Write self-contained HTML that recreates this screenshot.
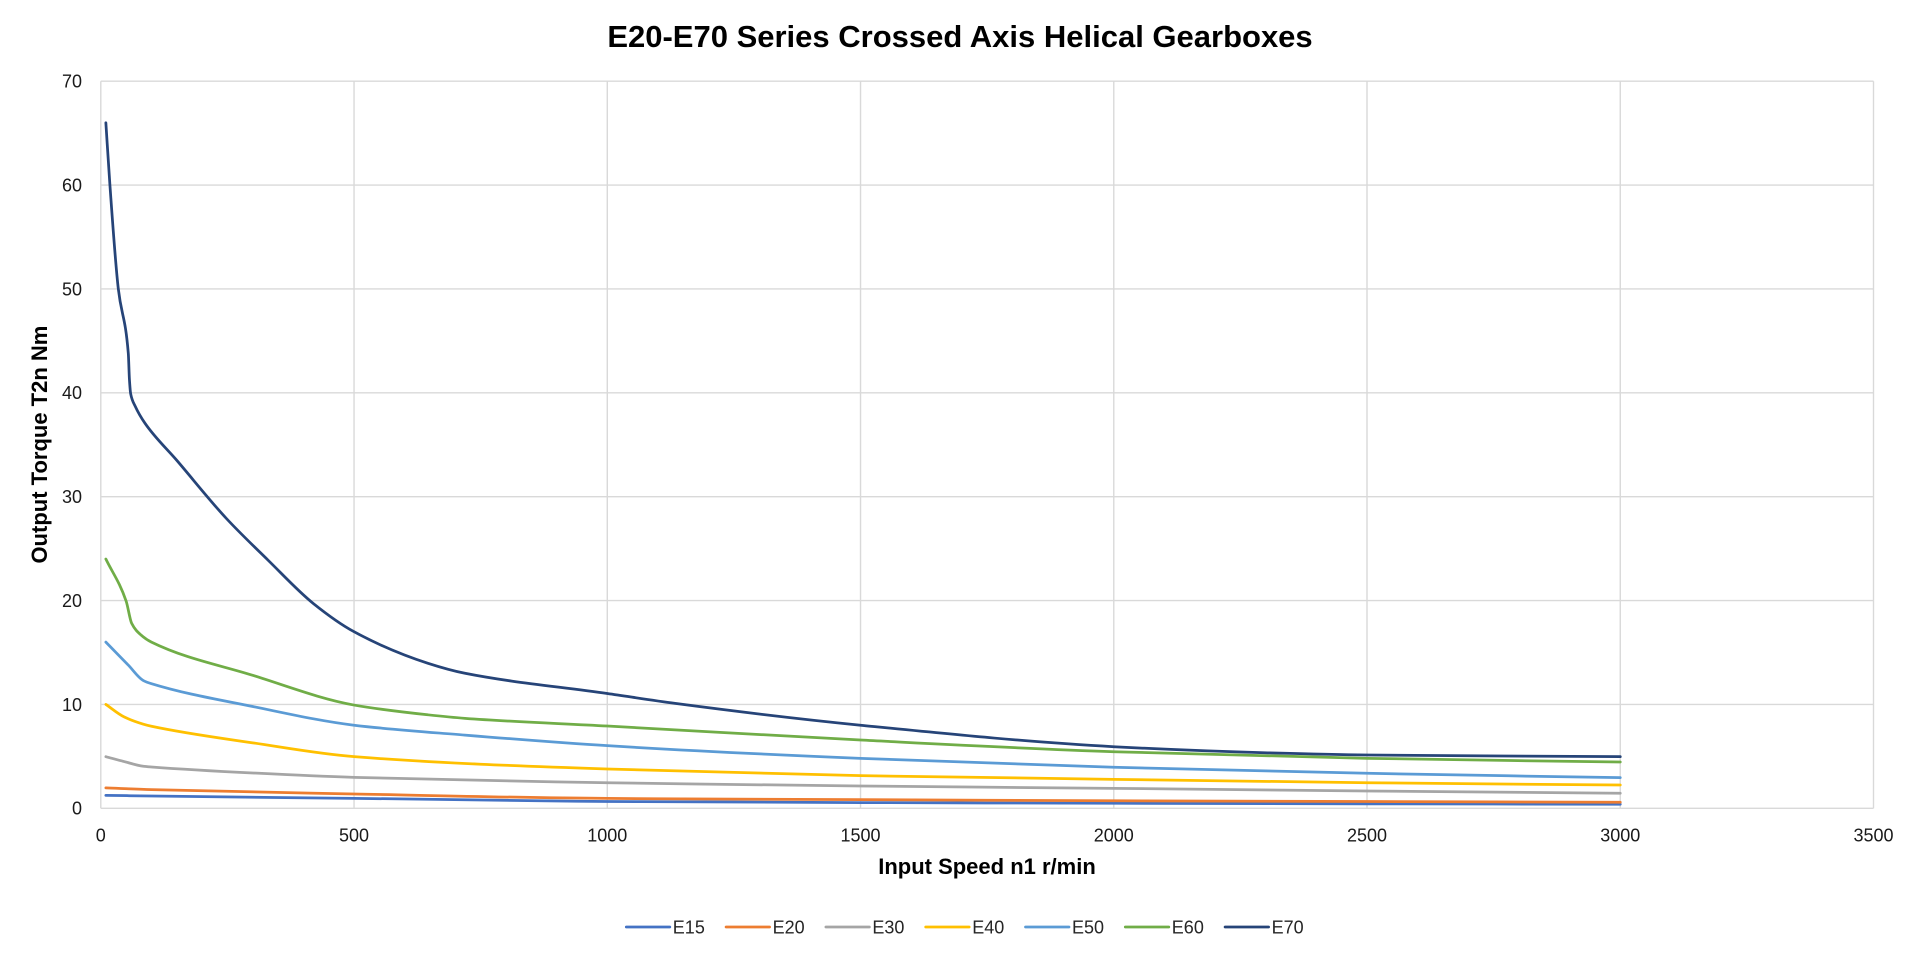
<!DOCTYPE html>
<html>
<head>
<meta charset="utf-8">
<style>
  html, body { margin:0; padding:0; background:#ffffff; }
  body { width:1920px; height:959px; overflow:hidden; }
  svg { display:block; }
  text { font-family: "Liberation Sans", Arial, sans-serif; }
</style>
</head>
<body>
<svg id="chart" width="1920" height="959" viewBox="0 0 1920 959" xmlns="http://www.w3.org/2000/svg">
  <rect x="0" y="0" width="1920" height="959" fill="#ffffff"/>
  <g id="grid" stroke="#d9d9d9" stroke-width="1.4" fill="none"></g>
  <g id="series" fill="none" stroke-width="2.75" stroke-linejoin="round" stroke-linecap="round"></g>
  <g id="yticks" font-size="18" fill="#1a1a1a" text-anchor="end">
    <text x="82" y="814.7">0</text>
    <text x="82" y="710.8">10</text>
    <text x="82" y="606.9">20</text>
    <text x="82" y="503.1">30</text>
    <text x="82" y="399.2">40</text>
    <text x="82" y="295.3">50</text>
    <text x="82" y="191.4">60</text>
    <text x="82" y="87.6">70</text>
  </g>
  <g id="xticks" font-size="18" fill="#1a1a1a" text-anchor="middle">
    <text x="100.8" y="841.5">0</text>
    <text x="354.0" y="841.5">500</text>
    <text x="607.3" y="841.5">1000</text>
    <text x="860.5" y="841.5">1500</text>
    <text x="1113.8" y="841.5">2000</text>
    <text x="1367.0" y="841.5">2500</text>
    <text x="1620.3" y="841.5">3000</text>
    <text x="1873.5" y="841.5">3500</text>
  </g>
  <text x="960" y="47" font-size="31" font-weight="bold" fill="#000" text-anchor="middle">E20-E70 Series Crossed Axis Helical Gearboxes</text>
  <text x="987" y="874" font-size="22" font-weight="bold" fill="#000" text-anchor="middle">Input Speed n1 r/min</text>
  <text transform="translate(47,444.6) rotate(-90)" x="0" y="0" font-size="22" font-weight="bold" fill="#000" text-anchor="middle">Output Torque T2n Nm</text>
  <g id="legend" font-size="18" fill="#262626"></g>
</svg>
<script>
(function(){
  var NS = "http://www.w3.org/2000/svg";
  var L = 100.8, R = 1873.5, T = 81.2, B = 808.3;
  var kx = (R - L) / 3500, ky = (B - T) / 70;
  function X(s){ return L + s * kx; }
  function Y(v){ return B - v * ky; }
  var grid = document.getElementById('grid');
  var d = '';
  for (var v = 0; v <= 70; v += 10) { var y = Y(v).toFixed(2); d += 'M' + L + ' ' + y + 'H' + R; }
  for (var s = 0; s <= 3500; s += 500) { var x = X(s).toFixed(2); d += 'M' + x + ' ' + T + 'V' + B; }
  var gp = document.createElementNS(NS, 'path'); gp.setAttribute('d', d); grid.appendChild(gp);

  var series = [
    {name:'E15', color:'#4472C4', pts:[[10,1.25],[100,1.18],[500,0.96],[1000,0.66],[1500,0.55],[2000,0.48],[2500,0.43],[3000,0.39]]},
    {name:'E20', color:'#ED7D31', pts:[[10,1.97],[100,1.8],[500,1.38],[1000,0.95],[1500,0.83],[2000,0.73],[2500,0.65],[3000,0.58]]},
    {name:'E30', color:'#A5A5A5', pts:[[10,4.97],[46,4.5],[84,4.05],[100,3.98],[300,3.4],[500,2.98],[1000,2.46],[1500,2.15],[2000,1.92],[2500,1.67],[3000,1.45]]},
    {name:'E40', color:'#FFC000', pts:[[10,10],[46,8.8],[84,8.1],[100,7.9],[300,6.3],[500,4.97],[1000,3.78],[1500,3.14],[2000,2.79],[2500,2.46],[3000,2.24]]},
    {name:'E50', color:'#5B9BD5', pts:[[10,16],[54,13.8],[84,12.3],[100,12.0],[300,9.8],[500,8.0],[719,7.05],[1000,6.03],[1500,4.81],[2000,3.95],[2500,3.37],[3000,2.95]]},
    {name:'E60', color:'#70AD47', pts:[[10,24],[50,19.95],[61,17.8],[79,16.7],[100,16.0],[300,12.8],[500,9.94],[646,9.0],[719,8.66],[1000,7.92],[1500,6.57],[2000,5.45],[2500,4.81],[3000,4.46]]},
    {name:'E70', color:'#264478', pts:[[10,66],[18,60],[34.6,50],[54.3,43.8],[56.5,41.3],[59,39.9],[68,38.7],[87.5,37.05],[150,33.5],[248,27.9],[330,23.9],[420,19.7],[500,17],[646,13.96],[719,13.0],[1000,11.05],[1134,10.1],[1500,8.0],[2000,5.93],[2297,5.35],[2500,5.13],[3000,4.97]]}
  ];

  function monoPath(p){
    var n = p.length, xs = [], ys = [], i;
    for (i = 0; i < n; i++){ xs.push(X(p[i][0])); ys.push(Y(p[i][1])); }
    var dx = [], dl = [], m = [];
    for (i = 0; i < n-1; i++){ dx.push(xs[i+1]-xs[i]); dl.push((ys[i+1]-ys[i])/dx[i]); }
    m[0] = dl[0]; m[n-1] = dl[n-2];
    for (i = 1; i < n-1; i++){
      if (dl[i-1]*dl[i] <= 0) m[i] = 0;
      else {
        var w1 = 2*dx[i] + dx[i-1], w2 = dx[i] + 2*dx[i-1];
        m[i] = (w1 + w2) / (w1/dl[i-1] + w2/dl[i]);
      }
    }
    var s = 'M' + xs[0].toFixed(2) + ' ' + ys[0].toFixed(2);
    for (i = 0; i < n-1; i++){
      var h = dx[i];
      var c1x = xs[i] + h/3, c1y = ys[i] + m[i]*h/3;
      var c2x = xs[i+1] - h/3, c2y = ys[i+1] - m[i+1]*h/3;
      s += 'C' + c1x.toFixed(2) + ' ' + c1y.toFixed(2) + ' ' + c2x.toFixed(2) + ' ' + c2y.toFixed(2) + ' ' + xs[i+1].toFixed(2) + ' ' + ys[i+1].toFixed(2);
    }
    return s;
  }
  var sg = document.getElementById('series');
  var lg = document.getElementById('legend');
  series.forEach(function(se, idx){
    var p = document.createElementNS(NS, 'path');
    p.setAttribute('d', monoPath(se.pts));
    p.setAttribute('stroke', se.color);
    sg.appendChild(p);
    var lx = 626.3 + idx * 99.8;
    var ln = document.createElementNS(NS, 'line');
    ln.setAttribute('x1', lx); ln.setAttribute('x2', lx + 43.5);
    ln.setAttribute('y1', 927); ln.setAttribute('y2', 927);
    ln.setAttribute('stroke', se.color); ln.setAttribute('stroke-width', '2.75'); ln.setAttribute('stroke-linecap', 'round');
    lg.appendChild(ln);
    var tx = document.createElementNS(NS, 'text');
    tx.setAttribute('x', lx + 46.5); tx.setAttribute('y', 933.4);
    tx.textContent = se.name;
    lg.appendChild(tx);
  });
})();
</script>
</body>
</html>
